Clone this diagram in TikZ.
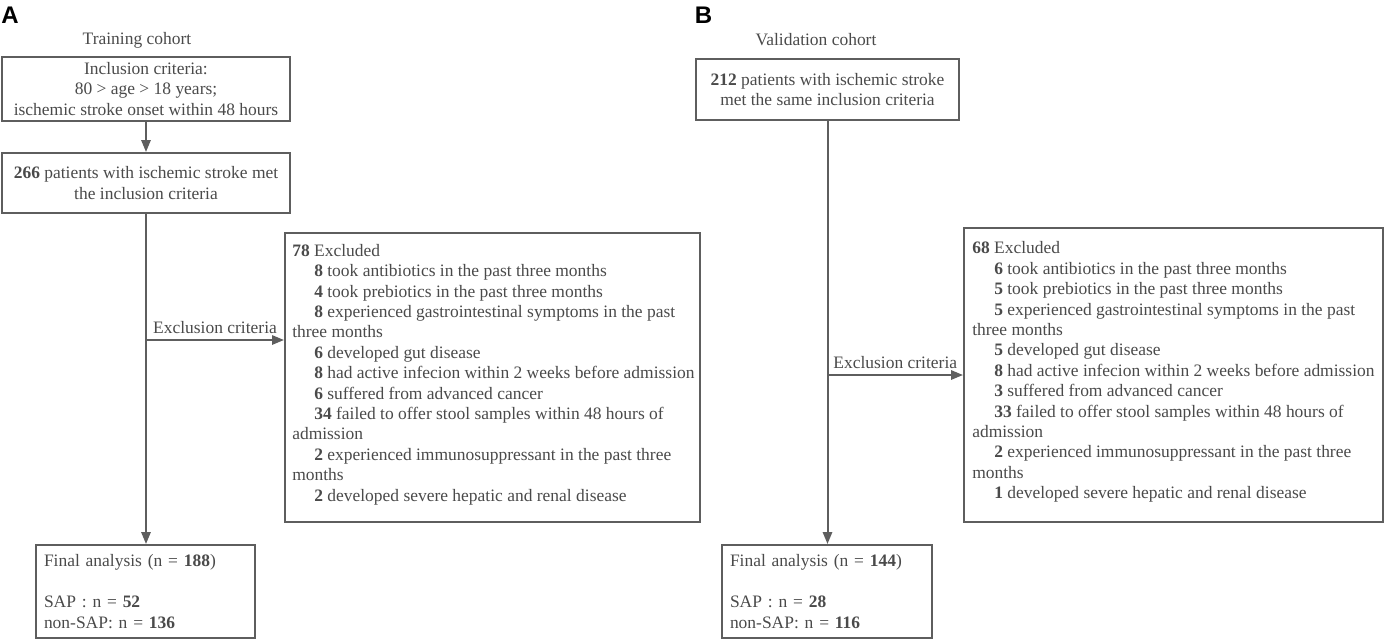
\documentclass[tikz,border=0pt]{standalone}
\usepackage{fontspec}
\setmainfont{Liberation Serif}
\setsansfont{Liberation Sans}
\usetikzlibrary{arrows.meta}
\definecolor{linegray}{HTML}{5E5E5E}
\definecolor{textgray}{HTML}{4A4A4A}
\newcommand{\exind}{\hspace*{16.5pt}}

\begin{document}
\begin{tikzpicture}[x=0.75pt,y=-0.75pt,
  txt/.style={text=textgray,font=\fontsize{13.1}{15.3}\selectfont,inner sep=0pt},
  box/.style={txt,draw=linegray,line width=1.5pt},
  panel/.style={font=\sffamily\bfseries\fontsize{18}{18}\selectfont,inner sep=0pt},
  arr/.style={draw=linegray,line width=1.5pt,-{Triangle[length=9pt,width=7pt]}},
  link/.style={draw=linegray,line width=1.5pt}]
\useasboundingbox (0,0) rectangle (1386,640);

% A: training cohort
\node[panel] (labA) at (10,15.5) {A};
\node[txt] (titleA) at (137,40) {Training cohort};
\node[box,minimum width=216pt,minimum height=48pt,align=center] (incA) at (146,89)
  {Inclusion criteria:\\80 > age > 18 years;\\ischemic stroke onset within 48 hours};
\node[box,minimum width=216pt,minimum height=45pt,align=center] (metA) at (146,183)
  {\textbf{266} patients with ischemic stroke met\\the inclusion criteria};
\node[box,minimum width=311.25pt,minimum height=216.75pt] (exA) at (492.5,377.5) {};
\node[txt,anchor=west,align=left] (exAlist) at ([xshift=6pt,yshift=2.2pt]exA.west)
  {\textbf{78} Excluded\\
   \exind\textbf{8} took antibiotics in the past three months\\
   \exind\textbf{4} took prebiotics in the past three months\\
   \exind\textbf{8} experienced gastrointestinal symptoms in the past\\
   three months\\
   \exind\textbf{6} developed gut disease\\
   \exind\textbf{8} had active infecion within 2 weeks before admission\\
   \exind\textbf{6} suffered from advanced cancer\\
   \exind\textbf{34} failed to offer stool samples within 48 hours of\\
   admission\\
   \exind\textbf{2} experienced immunosuppressant in the past three\\
   months\\
   \exind\textbf{2} developed severe hepatic and renal disease};
\node[box,minimum width=164.25pt,minimum height=69.75pt,text width=152.25pt,
  inner xsep=6pt,align=left] (finA) at (145.5,591.5)
  {Final analysis (n = \textbf{188})\\[15.3pt]
   SAP : n = \textbf{52}\\
   non-SAP: n = \textbf{136}};
\coordinate (splitA) at (metA.south |- 0,340);
\draw[arr] (incA) -- (metA);
\draw[arr] (metA) -- (metA.south |- finA.north);
\draw[arr] (splitA) -- node[txt,above=4pt] (critA) {Exclusion criteria} (splitA -| exA.west);

% B: validation cohort
\node[panel] (labB) at (703.5,15.5) {B};
\node[txt] (titleB) at (816,40) {Validation cohort};
\node[box,minimum width=197.25pt,minimum height=45.75pt,align=center] (metB) at (827.5,89.5)
  {\textbf{212} patients with ischemic stroke\\met the same inclusion criteria};
\node[box,minimum width=314.25pt,minimum height=220.5pt] (exB) at (1173.5,375) {};
\node[txt,anchor=west,align=left] (exBlist) at ([xshift=6.75pt,yshift=2.2pt]exB.west)
  {\textbf{68} Excluded\\
   \exind\textbf{6} took antibiotics in the past three months\\
   \exind\textbf{5} took prebiotics in the past three months\\
   \exind\textbf{5} experienced gastrointestinal symptoms in the past\\
   three months\\
   \exind\textbf{5} developed gut disease\\
   \exind\textbf{8} had active infecion within 2 weeks before admission\\
   \exind\textbf{3} suffered from advanced cancer\\
   \exind\textbf{33} failed to offer stool samples within 48 hours of\\
   admission\\
   \exind\textbf{2} experienced immunosuppressant in the past three\\
   months\\
   \exind\textbf{1} developed severe hepatic and renal disease};
\node[box,minimum width=157.5pt,minimum height=69.75pt,text width=145.5pt,
  inner xsep=6pt,align=left] (finB) at (827,591.5)
  {Final analysis (n = \textbf{144})\\[15.3pt]
   SAP : n = \textbf{28}\\
   non-SAP: n = \textbf{116}};
\coordinate (splitB) at (metB.south |- 0,375);
\draw[arr] (metB) -- (metB.south |- finB.north);
\draw[arr] (splitB) -- node[txt,above=4pt] (critB) {Exclusion criteria} (splitB -| exB.west);
\end{tikzpicture}
\end{document}
